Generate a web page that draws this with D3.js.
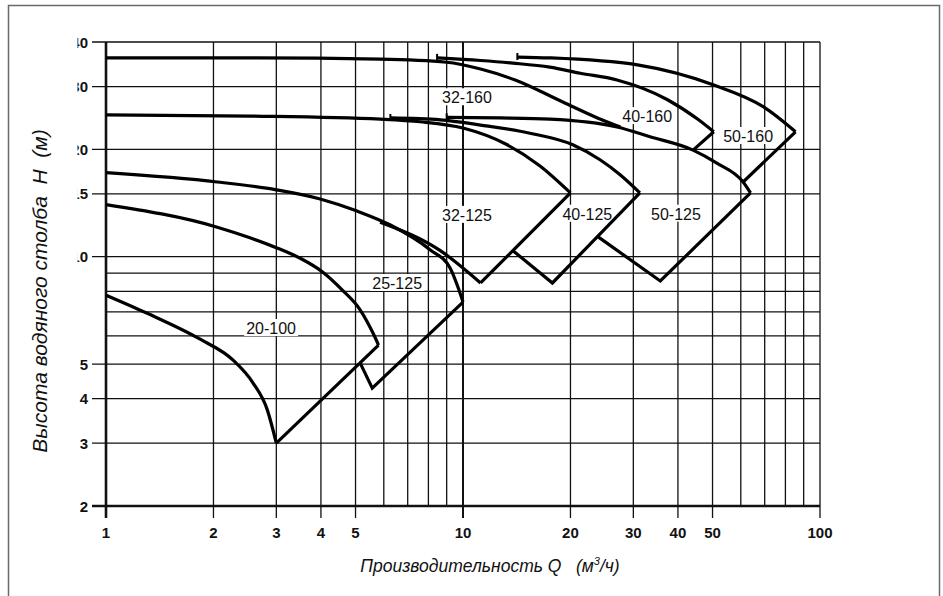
<!DOCTYPE html>
<html>
<head>
<meta charset="utf-8">
<script src="https://cdn.jsdelivr.net/npm/d3@7"></script>
<style>
  html, body { margin: 0; padding: 0; background: #fff; }
  svg { display: block; font-family: "Liberation Sans", Arial, sans-serif; }
</style>
</head>
<body>
<div id="chart"></div>
<script>
'use strict';

// axis ticks
var xGrid = [1, 2, 3, 4, 5, 6, 7, 8, 9, 10, 20, 30, 40, 50, 60, 70, 80, 90, 100];
var yGrid = [2, 3, 4, 5, 6, 7, 8, 9, 10, 15, 20, 30, 40];
var xLabels = [1, 2, 3, 4, 5, 10, 20, 30, 40, 50, 100];
var yLabels = [2, 3, 4, 5, 10, 15, 20, 30, 40];

// pump curves, [Q m3/h, H m]
var c20_100_lo = [[1, 7.8], [1.3, 6.95], [1.83, 5.88], [2.27, 5.13], [2.58, 4.43], [2.83, 3.72], [3, 3]];
var c20_100_hi = [[1, 14], [2.05, 12.1], [2.53, 11.3], [3, 10.6], [3.5, 9.9], [4.05, 9.05], [4.6, 8.05], [5.15, 7.1], [5.6, 6.1], [5.8, 5.65]];
var c25_125_hi = [[1, 17.2], [2.05, 16.2], [3, 15.4], [3.98, 14.52], [5.05, 13.43], [6.26, 12.27], [8.1, 10.45], [9.2, 9.3], [9.7, 8.17], [10, 7.46]];
var c32_125_lo = [[5.86, 12.5], [8.64, 10.4], [11.2, 8.44]];
var c32_125_hi = [[1, 25], [2.53, 24.8], [5.86, 24.3], [7.58, 23.9], [10, 22.95], [13.3, 20.6], [16.4, 18], [20, 15.1]];
var c40_125_hi = [[6.26, 24.5], [8.64, 24.2], [11.2, 23.4], [15.4, 22.2], [20.3, 20.6], [24.2, 18.7], [27.6, 16.95], [31.3, 15.1]];
var c50_125_hi = [[9, 24.6], [12.7, 24.5], [17.5, 24.3], [27, 23.1], [33.4, 21.7], [44.1, 19.9], [51.4, 18.3], [60.9, 16.2], [63.9, 15.1]];
var c32_160_hi = [[1, 36.1], [2.53, 36.1], [5.86, 35.8], [9, 35.1], [11.2, 33.6], [14, 31.3], [19.1, 27.1], [23.8, 24.5], [27.6, 23.1]];
var c40_160_hi = [[8.46, 36.1], [11.2, 35.5], [13.8, 34.9], [17.5, 34], [21.3, 32.7], [27, 31.3], [37.3, 27.6], [45.7, 24.2], [50.4, 22.4]];
var c50_160_hi = [[14.2, 36.3], [17.5, 36.1], [30.8, 34.5], [50.4, 30.3], [69.5, 26.3], [85.4, 22.4]];

// straight boundaries between curves
var e20_100 = [[3, 3], [5.8, 5.65]];
var e25_125 = [[10, 7.46], [5.57, 4.28], [5.15, 5.04]];
var e32_125 = [[11.2, 8.44], [20, 15.1]];
var e40_125 = [[13.8, 10.4], [17.8, 8.44], [31.3, 15.1]];
var e50_125 = [[23.8, 11.4], [35.7, 8.55], [63.9, 15.1]];
var e40_160 = [[50.4, 22.4], [44.1, 19.9]];
var e50_160 = [[85.4, 22.4], [60.9, 16.2]];

// curves that start with a small tick mark
var startTicks = [c40_125_hi[0], c50_125_hi[0], c40_160_hi[0], c50_160_hi[0]];

// pump names and where they sit
var pumpNames = ['20-100', '25-125', '32-125', '40-125', '50-125', '32-160', '40-160', '50-160'];
var pumpPos = [[2.9, 6.31], [6.54, 8.44], [10.26, 13.1], [22.3, 13.2], [39.5, 13.2], [10.26, 28], [32.8, 24.8], [62.9, 21.8]];

var W = 943, H = 596;
var svg = d3.select('#chart').append('svg')
  .attr('width', W)
  .attr('height', H);

var x = d3.scaleLog().domain([1, 100]).range([106, 820]);
var y = d3.scaleLog().domain([2, 40]).range([506, 42]);

// outer frame
svg.append('rect')
  .attr('x', 8.5).attr('y', 5.5)
  .attr('width', 931).attr('height', 600)
  .attr('fill', 'none')
  .attr('stroke', '#6a6a6a')
  .attr('stroke-width', 1.5);

var grid = svg.append('g').attr('stroke', '#111').attr('fill', 'none');

grid.selectAll('.vline')
  .data(xGrid)
  .enter().append('line')
    .attr('class', 'vline')
    .attr('x1', function(d) { return x(d); })
    .attr('x2', function(d) { return x(d); })
    .attr('y1', y(40))
    .attr('y2', function(d) { return xLabels.indexOf(d) >= 0 ? y(2) + 12 : y(2); })
    .attr('stroke-width', function(d) { return d === 1 ? 2.6 : (d === 10 ? 2 : 1.3); });

grid.selectAll('.hline')
  .data(yGrid)
  .enter().append('line')
    .attr('class', 'hline')
    .attr('y1', function(d) { return y(d); })
    .attr('y2', function(d) { return y(d); })
    .attr('x1', function(d) { return yLabels.indexOf(d) >= 0 ? x(1) - 14 : x(1); })
    .attr('x2', x(100))
    .attr('stroke-width', function(d) { return d === 2 ? 2.4 : 1.3; });

// tick labels
svg.append('g')
  .attr('font-size', 15)
  .attr('font-weight', 'bold')
  .attr('fill', '#111')
  .attr('text-anchor', 'middle')
  .selectAll('text')
  .data(xLabels)
  .enter().append('text')
    .attr('x', function(d) { return x(d); })
    .attr('y', 538)
    .text(function(d) { return d; });

// the scan cuts the left side of the y labels
svg.append('clipPath').attr('id', 'ycut')
  .append('rect').attr('x', 77.5).attr('y', 0).attr('width', 30).attr('height', H);

svg.append('g')
  .attr('clip-path', 'url(#ycut)')
  .attr('font-size', 15)
  .attr('font-weight', 'bold')
  .attr('fill', '#111')
  .attr('text-anchor', 'end')
  .selectAll('text')
  .data(yLabels)
  .enter().append('text')
    .attr('x', 88)
    .attr('y', function(d) { return y(d) + 5.5; })
    .text(function(d) { return d; });

// pump name labels on white boxes
var names = svg.append('g').attr('font-size', 16).attr('fill', '#111');
pumpNames.forEach(function(name, i) {
  var px = x(pumpPos[i][0]), py = y(pumpPos[i][1]);
  names.append('rect')
    .attr('x', px - 27).attr('y', py - 9)
    .attr('width', 54).attr('height', 17)
    .attr('fill', '#fff');
  names.append('text')
    .attr('x', px).attr('y', py + 6)
    .attr('text-anchor', 'middle')
    .text(name);
});

var smooth = d3.line()
  .x(function(d) { return x(d[0]); })
  .y(function(d) { return y(d[1]); })
  .curve(d3.curveMonotoneX);

var straight = d3.line()
  .x(function(d) { return x(d[0]); })
  .y(function(d) { return y(d[1]); });

var curves = svg.append('g')
  .attr('fill', 'none')
  .attr('stroke', '#000')
  .attr('stroke-width', 3.2)
  .attr('stroke-linejoin', 'miter');

[c20_100_lo, c20_100_hi, c25_125_hi, c32_125_lo, c32_125_hi, c40_125_hi,
 c50_125_hi, c32_160_hi, c40_160_hi, c50_160_hi].forEach(function(c) {
  curves.append('path').attr('d', smooth(c));
});

[e20_100, e25_125, e32_125, e40_125, e50_125, e40_160, e50_160].forEach(function(e) {
  curves.append('path').attr('d', straight(e));
});

curves.selectAll('.start')
  .data(startTicks)
  .enter().append('line')
    .attr('class', 'start')
    .attr('x1', function(d) { return x(d[0]); })
    .attr('x2', function(d) { return x(d[0]); })
    .attr('y1', function(d) { return y(d[1]) - 4; })
    .attr('y2', function(d) { return y(d[1]) + 3; })
    .attr('stroke-width', 2);

// axis titles
svg.append('text')
  .attr('transform', 'translate(47,291) rotate(-90)')
  .attr('text-anchor', 'middle')
  .attr('font-size', 21)
  .attr('font-style', 'italic')
  .attr('fill', '#111')
  .style('white-space', 'pre')
  .text('Высота водяного столба  H  (м)');

var xt = svg.append('text')
  .attr('x', 490).attr('y', 572)
  .attr('text-anchor', 'middle')
  .attr('font-size', 17.5)
  .attr('font-style', 'italic')
  .attr('fill', '#111')
  .style('white-space', 'pre');
xt.append('tspan').text('Производительность Q   (м');
xt.append('tspan').attr('font-size', 11).attr('dy', -7).text('3');
xt.append('tspan').attr('dy', 7).text('/ч)');
</script>
</body>
</html>
